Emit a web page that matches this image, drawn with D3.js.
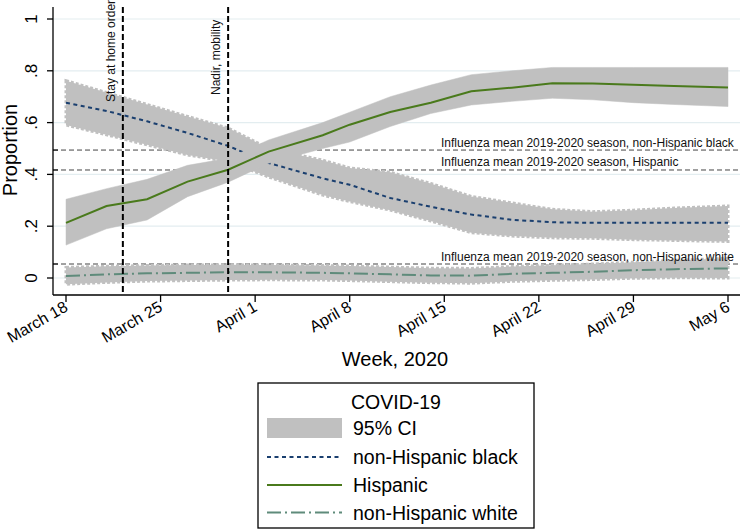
<!DOCTYPE html>
<html><head><meta charset="utf-8">
<script src="https://cdn.jsdelivr.net/npm/d3@7"></script>
<style>
html,body{margin:0;padding:0;background:#fff;}
svg text{font-family:"Liberation Sans",Arial,sans-serif;}
</style></head>
<body><svg id="c" width="740" height="530"></svg>
<script>
const dates = ["2020-03-18","2020-03-21","2020-03-24","2020-03-27","2020-03-30","2020-04-02","2020-04-06","2020-04-08","2020-04-11","2020-04-14","2020-04-17","2020-04-20","2020-04-23","2020-04-26","2020-04-29","2020-05-02","2020-05-06"];
const blackMean  = [0.677,0.645,0.605,0.56,0.51,0.444,0.385,0.36,0.309,0.275,0.245,0.225,0.215,0.213,0.213,0.213,0.213];
const blackLower = [0.591,0.553,0.514,0.475,0.45,0.39,0.32,0.295,0.262,0.22,0.175,0.162,0.155,0.153,0.148,0.145,0.141];
const blackUpper = [0.762,0.716,0.67,0.624,0.579,0.50,0.455,0.425,0.408,0.365,0.315,0.29,0.265,0.256,0.262,0.27,0.278];
const hispMean   = [0.213,0.278,0.304,0.372,0.418,0.488,0.551,0.592,0.641,0.677,0.721,0.735,0.752,0.751,0.746,0.741,0.736];
const hispLower  = [0.127,0.19,0.224,0.314,0.37,0.443,0.50,0.525,0.585,0.635,0.668,0.682,0.694,0.688,0.677,0.67,0.662];
const hispUpper  = [0.304,0.345,0.381,0.435,0.462,0.533,0.60,0.64,0.70,0.745,0.785,0.80,0.813,0.813,0.813,0.813,0.813];
const whiteMean  = [0.008,0.014,0.018,0.02,0.022,0.022,0.02,0.018,0.014,0.01,0.009,0.016,0.02,0.024,0.03,0.034,0.037];
const whiteLower = [-0.024,-0.017,-0.012,-0.01,-0.008,-0.007,-0.008,-0.01,-0.014,-0.018,-0.02,-0.013,-0.009,-0.006,-0.001,0.001,0.0];
const whiteUpper = [0.041,0.045,0.048,0.05,0.051,0.05,0.048,0.046,0.042,0.038,0.037,0.044,0.049,0.054,0.061,0.068,0.076];
const fluMeans = [
  {label:"Influenza mean 2019-2020 season, non-Hispanic black", value:0.494},
  {label:"Influenza mean 2019-2020 season, Hispanic", value:0.417},
  {label:"Influenza mean 2019-2020 season, non-Hispanic white", value:0.054}
];
const events = [
  {label:"Stay at home order", date:"2020-03-22T05:00"},
  {label:"Nadir, mobility", date:"2020-03-30"}
];
const xTicks = ["2020-03-18","2020-03-25","2020-04-01","2020-04-08","2020-04-15","2020-04-22","2020-04-29","2020-05-06"];
const xTickLabels = ["March 18","March 25","April 1","April 8","April 15","April 22","April 29","May 6"];
const yTicks = [0,0.2,0.4,0.6,0.8,1];
const yTickLabels = ["0",".2",".4",".6",".8","1"];
const legendItems = ["95% CI","non-Hispanic black","Hispanic","non-Hispanic white"];

const parse = d3.isoParse;
const svg = d3.select("#c");
const plotL = 53, plotR = 740, plotT = 7, plotB = 295;
const x = d3.scaleTime().domain([parse(xTicks[0]), parse(xTicks[xTicks.length-1])]).range([66, 728]);
const y = d3.scaleLinear().domain([0,1]).range([278, 19]);

const BAND = "#c0c0c0", NAVY = "#1a3f6f", GREEN = "#4a7a1c", TEAL = "#5f8b7b";

// gridlines
svg.append("g").selectAll("line").data(yTicks).join("line")
  .attr("x1", plotL).attr("x2", plotR).attr("y1", d=>y(d)).attr("y2", d=>y(d))
  .attr("stroke", "#e3edf0").attr("stroke-width", 1.2);

// influenza reference lines
svg.append("g").selectAll("line").data(fluMeans).join("line")
  .attr("x1", plotL).attr("x2", plotR).attr("y1", d=>y(d.value)).attr("y2", d=>y(d.value))
  .attr("stroke", "#444").attr("stroke-width", 1).attr("stroke-dasharray", "5,3");

const rows = (m, lo, hi) => dates.map((d,i)=>({d:parse(d), m:m[i], lo:lo[i], hi:hi[i]}));
const area = d3.area().x(d=>x(d.d)).y0(d=>y(d.lo)).y1(d=>y(d.hi));
const line = d3.line().x(d=>x(d.d)).y(d=>y(d.m));

const blackRows = rows(blackMean, blackLower, blackUpper);
const whiteRows = rows(whiteMean, whiteLower, whiteUpper);
const hispRows = rows(hispMean, hispLower, hispUpper);

function band(r, jag){
  const p = svg.append("path").datum(r).attr("d", area).attr("fill", BAND);
  if (jag) p.attr("stroke", BAND).attr("stroke-width", 3).attr("stroke-dasharray", "3,2");
  else p.attr("stroke", BAND).attr("stroke-width", 0.5);
}
band(blackRows, true);
svg.append("path").datum(blackRows).attr("d", line).attr("fill","none")
  .attr("stroke", NAVY).attr("stroke-width", 2).attr("stroke-dasharray", "4,3.5");
band(whiteRows, true);
svg.append("path").datum(whiteRows).attr("d", line).attr("fill","none")
  .attr("stroke", TEAL).attr("stroke-width", 2).attr("stroke-dasharray", "14,4,2,4");
band(hispRows, false);
svg.append("path").datum(hispRows).attr("d", line).attr("fill","none")
  .attr("stroke", GREEN).attr("stroke-width", 2);

// flu labels
svg.append("g").selectAll("text").data(fluMeans).join("text")
  .attr("x", 441).attr("y", d=>y(d.value)-3.5)
  .attr("font-size", 12).attr("fill", "#111").text(d=>d.label);

// event lines
const ev = svg.append("g").selectAll("g").data(events).join("g");
ev.append("line").attr("x1", d=>x(parse(d.date))).attr("x2", d=>x(parse(d.date)))
  .attr("y1", plotT).attr("y2", plotB).attr("stroke", "#000").attr("stroke-width", 2).attr("stroke-dasharray", "6,3");
ev.append("text").attr("transform", (d,i)=>`translate(${x(parse(d.date))-8},${i===0?102:95}) rotate(-90)`)
  .attr("text-anchor", "start").attr("font-size", 12).attr("fill", "#111").text(d=>d.label);

// axes
const yAxis = svg.append("g");
yAxis.append("line").attr("x1", plotL).attr("x2", plotL).attr("y1", plotT).attr("y2", plotB).attr("stroke", "#000").attr("stroke-width", 1.3);
yAxis.selectAll("line.t").data(yTicks).join("line").attr("class","t")
  .attr("x1", plotL-6).attr("x2", plotL).attr("y1", d=>y(d)).attr("y2", d=>y(d)).attr("stroke","#000").attr("stroke-width",1.3);
yAxis.selectAll("line.m").data(fluMeans).join("line").attr("class","m")
  .attr("x1", plotL).attr("x2", plotL+5).attr("y1", d=>y(d.value)).attr("y2", d=>y(d.value)).attr("stroke","#000").attr("stroke-width",1);
yAxis.selectAll("text").data(yTicks).join("text")
  .attr("transform", d=>`translate(37,${y(d)}) rotate(-90)`).attr("text-anchor","middle")
  .attr("font-size", 17).attr("fill","#000").text((d,i)=>yTickLabels[i]);

const xAxis = svg.append("g");
xAxis.append("line").attr("x1", plotL).attr("x2", plotR).attr("y1", plotB).attr("y2", plotB).attr("stroke","#000").attr("stroke-width",1.3);
xAxis.selectAll("line.t").data(xTicks).join("line").attr("class","t")
  .attr("x1", d=>x(parse(d))).attr("x2", d=>x(parse(d))).attr("y1", plotB).attr("y2", plotB+7).attr("stroke","#000").attr("stroke-width",1.3);
xAxis.selectAll("text").data(xTicks).join("text")
  .attr("transform", d=>`translate(${x(parse(d))+3},${plotB+15}) rotate(-30)`).attr("text-anchor","end")
  .attr("font-size", 16).attr("fill","#000").text((d,i)=>xTickLabels[i]);

// axis titles
svg.append("text").attr("transform", `translate(17,150) rotate(-90)`).attr("text-anchor","middle")
  .attr("font-size", 20).attr("fill","#000").text("Proportion");
svg.append("text").attr("x", 395).attr("y", 366).attr("text-anchor","middle")
  .attr("font-size", 20).attr("fill","#000").text("Week, 2020");

// legend
const lg = svg.append("g");
lg.append("rect").attr("x", 258).attr("y", 383).attr("width", 276).attr("height", 145)
  .attr("fill","#fff").attr("stroke","#000").attr("stroke-width",1.3);
lg.append("text").attr("x", 396).attr("y", 409).attr("text-anchor","middle").attr("font-size",19.5).text("COVID-19");
const itemY = [428, 457, 485, 512.5];
lg.append("rect").attr("x", 267).attr("y", 418).attr("width", 75).attr("height", 20).attr("fill", BAND);
const styles = [null, {c:NAVY, dash:"4,3.5"}, {c:GREEN, dash:null}, {c:TEAL, dash:"14,4,2,4"}];
styles.forEach((s,i)=>{
  if (!s) return;
  const l = lg.append("line").attr("x1",267).attr("x2",342).attr("y1",itemY[i]).attr("y2",itemY[i])
    .attr("stroke", s.c).attr("stroke-width", 2);
  if (s.dash) l.attr("stroke-dasharray", s.dash);
});
lg.selectAll("text.it").data(legendItems).join("text").attr("class","it")
  .attr("x", 353).attr("y", (d,i)=>itemY[i]+7).attr("font-size",19.5).attr("fill","#000").text(d=>d);
</script></body></html>
